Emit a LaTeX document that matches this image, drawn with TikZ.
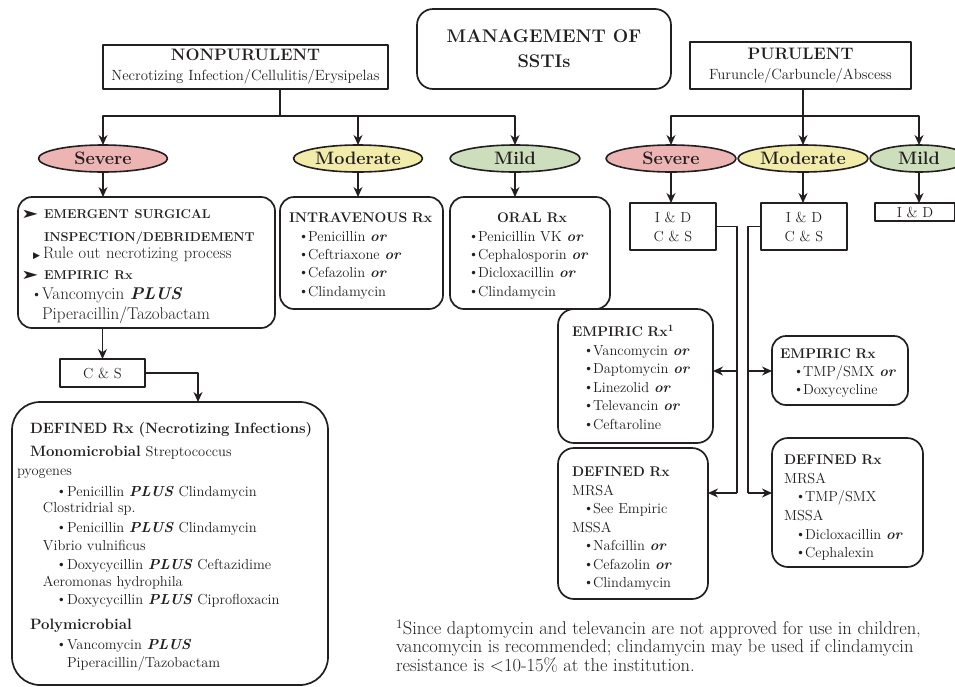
\documentclass[tikz,border=0pt]{standalone}
\usepackage{fontspec}
\usepackage{graphicx}
\usetikzlibrary{shapes.geometric,arrows.meta,calc}
\newfontfamily\symfont{DejaVu Sans}
\definecolor{ink}{RGB}{35,31,32}
\definecolor{sevfill}{RGB}{236,180,178}
\definecolor{modfill}{RGB}{242,236,170}
\definecolor{mildfill}{RGB}{204,222,188}
\newcommand\fsz[2]{\fontsize{#1}{#2}\selectfont}
\newcommand\myor{\textbf{\textit{or}}}
\newcommand\myplus{\textbf{\textit{PLUS}}}
\newcommand\hd[1]{{\fsz{14}{18}\bfseries #1}}
\newcommand\bul[2]{\hspace*{#1}\makebox[#2][l]{\symfont\fsz{12}{18}•}}
\newcommand\tstrut[1]{\rule{0pt}{#1}}
\newcommand\arrowmark{\makebox[23pt][l]{\symfont\fsz{11}{18}\scalebox{1.9}[1.2]{➤}}}
\begin{document}
\begin{tikzpicture}[x=1pt,y=-1pt,line join=round,
  every node/.style={text=ink,inner sep=0pt,outer sep=0pt},
  rbox/.style={draw=ink,line width=1.7pt,rounded corners=14pt,align=left,fill=white},
  sbox/.style={draw=ink,line width=1.4pt,align=center,fill=white},
  ell/.style={draw=ink,ellipse,line width=1.6pt,minimum height=27pt,font=\fsz{18}{20}\bfseries},
  conn/.style={draw=ink,line width=1.2pt},
  arr/.style={conn,-{Stealth[length=10pt,width=9pt]}}]
\useasboundingbox (0,0) rectangle (955,686);

% headers
\node[rbox,rounded corners=16pt,minimum width=254pt,minimum height=80pt,align=center,font=\fsz{18.3}{25}\bfseries] (title) at (544,49) {MANAGEMENT OF\\SSTIs};
\node[sbox,minimum width=285pt,minimum height=44pt,font=\fsz{14.8}{20}] (np) at (245.5,67) {{\fsz{16.6}{20}\bfseries NONPURULENT}\\Necrotizing Infection/Cellulitis/Erysipelas};
\node[sbox,minimum width=221pt,minimum height=47pt,font=\fsz{14.8}{19.5}] (pu) at (800.5,65.5) {{\fsz{16.6}{20}\bfseries PURULENT}\\Furuncle/Carbuncle/Abscess};

% severity ellipses
\node[ell,fill=sevfill,minimum width=129pt] (sevNP) at (103,158.5) {Severe};
\node[ell,fill=modfill,minimum width=129pt] (modNP) at (358,158.5) {Moderate};
\node[ell,fill=mildfill,minimum width=130pt] (mildNP) at (515,158.5) {Mild};
\node[ell,fill=sevfill,minimum width=130pt] (sevP) at (671,158.5) {Severe};
\node[ell,fill=modfill,minimum width=130pt] (modP) at (803,158.5) {Moderate};
\node[ell,fill=mildfill,minimum width=98pt] (mildP) at (919,158.5) {Mild};

% nonpurulent boxes
\node[rbox,text width=251pt,inner xsep=3pt,minimum height=131pt,font=\fsz{17}{20}] (sevbox) at (146.5,262.5) {%
\tstrut{17pt}\arrowmark{\fsz{12.8}{20}\bfseries EMERGENT SURGICAL}\\[3pt]
\hspace*{23pt}{\fsz{12.8}{20}\bfseries INSPECTION/DEBRIDEMENT}\\[-3pt]
\hspace*{12pt}\makebox[10pt][l]{\symfont\fsz{9}{20}▶}{\fsz{16.5}{20}Rule out necrotizing process}\\[1pt]
\arrowmark{\fsz{12.8}{20}\bfseries EMPIRIC Rx}\\
\bul{12pt}{9pt}Vancomycin \myplus\\
\hspace*{21pt}Piperacillin/Tazobactam};

\node[rbox,text width=145pt,inner xsep=9pt,minimum height=112pt,font=\fsz{14.5}{18.3}] (ivbox) at (361.5,253) {%
\tstrut{16pt}\hd{INTRAVENOUS Rx}\\
\bul{11pt}{8pt}Penicillin \myor\\
\bul{11pt}{8pt}Ceftriaxone \myor\\
\bul{11pt}{8pt}Cefazolin \myor\\
\bul{11pt}{8pt}Clindamycin};

\node[rbox,text width=142pt,inner xsep=9pt,minimum height=112pt,font=\fsz{14.5}{18.3}] (oralbox) at (530,253) {%
\tstrut{16pt}\hspace*{38pt}\hd{ORAL Rx}\\
\bul{11pt}{8pt}Penicillin VK \myor\\
\bul{11pt}{8pt}Cephalosporin \myor\\
\bul{11pt}{8pt}Dicloxacillin \myor\\
\bul{11pt}{8pt}Clindamycin};

\node[sbox,minimum width=85pt,minimum height=28pt,font=\fsz{14.5}{19}] (cs) at (102.5,373) {C \& S};

\node[rbox,rounded corners=28pt,text width=280pt,inner xsep=18pt,minimum height=283pt,font=\fsz{14.5}{18}] (defnp) at (170,543.5) {%
\tstrut{17pt}\makebox[280pt][l]{\fsz{14.9}{18}\bfseries DEFINED Rx (Necrotizing Infections)}\\[5pt]
{\fsz{15}{18}\bfseries Monomicrobial} Streptococcus\\[1pt]
\hspace*{-13pt}pyogenes\\[3pt]
\bul{28pt}{9pt}Penicillin \myplus{} Clindamycin\\[-2pt]
\hspace*{13pt}Clostridrial sp.\\[2pt]
\bul{28pt}{9pt}Penicillin \myplus{} Clindamycin\\
\hspace*{13pt}Vibrio vulnificus\\[1pt]
\bul{28pt}{9pt}Doxycycillin \myplus{} Ceftazidime\\[-1pt]
\hspace*{13pt}Aeromonas hydrophila\\
\bul{28pt}{9pt}Doxycycillin \myplus{} Ciprofloxacin\\[7pt]
{\fsz{15}{18}\bfseries Polymicrobial}\\[2pt]
\bul{28pt}{9pt}Vancomycin \myplus\\
\hspace*{37pt}Piperacillin/Tazobactam};

% purulent boxes
\node[sbox,minimum width=86pt,minimum height=47pt,font=\fsz{14.5}{19}] (ids) at (673,226.5) {I \& D\\C \& S};
\node[sbox,minimum width=86pt,minimum height=47pt,font=\fsz{14.5}{19}] (idm) at (804,226.5) {I \& D\\C \& S};
\node[sbox,minimum width=80pt,minimum height=18pt,font=\fsz{14.5}{19}] (idl) at (915,212) {I \& D};

\node[rbox,rounded corners=16pt,text width=127pt,inner xsep=14pt,minimum height=134pt,font=\fsz{14.5}{18.5}] (empl) at (635.5,376) {%
\tstrut{14pt}\hd{EMPIRIC Rx\textsuperscript{1}}\\
\bul{13pt}{8pt}Vancomycin \myor\\
\bul{13pt}{8pt}Daptomycin \myor\\
\bul{13pt}{8pt}Linezolid \myor\\
\bul{13pt}{8pt}Televancin \myor\\
\bul{13pt}{8pt}Ceftaroline};

\node[rbox,rounded corners=16pt,text width=122pt,inner xsep=14pt,minimum height=151pt,font=\fsz{14.5}{18.5}] (defl) at (633,523.5) {%
\tstrut{20pt}\hd{DEFINED Rx}\\
MRSA\\
\bul{13pt}{8pt}See Empiric\\
MSSA\\
\bul{13pt}{8pt}Nafcillin \myor\\
\bul{13pt}{8pt}Cefazolin \myor\\
\bul{13pt}{8pt}Clindamycin};

\node[rbox,text width=120pt,inner xsep=8pt,minimum height=69pt,font=\fsz{14.5}{18}] (empr) at (840,370.5) {%
\tstrut{14pt}\hd{EMPIRIC Rx}\\
\bul{15pt}{8pt}TMP/SMX \myor\\
\bul{15pt}{8pt}Doxycycline};

\node[rbox,rounded corners=16pt,text width=127pt,inner xsep=12pt,minimum height=129pt,font=\fsz{14.5}{18.6}] (defr) at (847.5,502.5) {%
\tstrut{20pt}\hd{DEFINED Rx}\\
MRSA\\
\bul{13pt}{8pt}TMP/SMX\\
MSSA\\
\bul{13pt}{8pt}Dicloxacillin \myor\\
\bul{13pt}{8pt}Cephalexin};

% footnote
\node[anchor=west,align=left,font=\fsz{18.5}{18.5}] (fn) at (396,646) {%
\textsuperscript{1}Since daptomycin and televancin are not approved for use in children,\\
vancomycin is recommended; clindamycin may be used if clindamycin\\
resistance is <10-15\% at the institution.};

% connectors
\coordinate (npj) at (280,116);
\coordinate (puj) at (803,116);
\draw[conn] (npj |- np.south) -- (npj);
\draw[arr] (npj) -| (sevNP.north);
\draw[arr] (npj) -| (mildNP.north);
\draw[arr] (modNP.north |- npj) -- (modNP.north);
\draw[conn] (puj |- pu.south) -- (puj);
\draw[arr] (puj) -| (sevP.north);
\draw[arr] (puj) -| (mildP.north);
\draw[arr] (puj) -- (modP.north);

\draw[arr] (sevNP.south) -- (sevNP.south |- sevbox.north);
\draw[arr] (modNP.south) -- (modNP.south |- ivbox.north);
\draw[arr] (mildNP.south) -- (mildNP.south |- oralbox.north);
\draw[arr] (sevP.south) -- (sevP.south |- ids.north);
\draw[arr] (modP.south) -- (modP.south |- idm.north);
\draw[arr] (mildP.south) -- (mildP.south |- idl.north);

\draw[arr] (cs.north |- sevbox.south) -- (cs.north);
\draw[arr] (cs.east) -| ($(defnp.north)+(28,0)$);

\coordinate (l1) at (737,371);
\coordinate (l2) at (737,493);
\coordinate (r1) at (748,371);
\coordinate (r2) at (748,493);
\draw[conn] (ids.east) -| (l2);
\draw[arr] (l1) -- (l1 -| empl.east);
\draw[arr] (l2) -- (l2 -| defl.east);
\draw[conn] (idm.west) -| (r2);
\draw[arr] (r1) -- (r1 -| empr.west);
\draw[arr] (r2) -- (r2 -| defr.west);
\end{tikzpicture}
\end{document}
